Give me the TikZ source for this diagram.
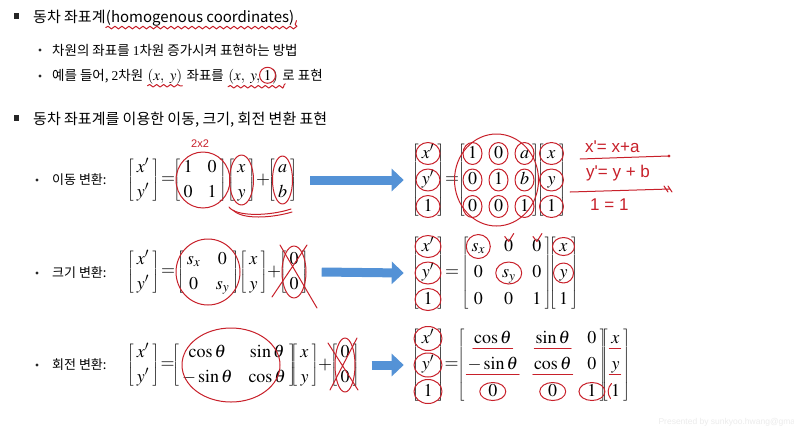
\documentclass[tikz,border=0pt]{standalone}
\usepackage{amsmath}
\usepackage{mathptmx}
\usepackage{fontspec}
\setmainfont{Liberation Serif}
\newfontfamily\kr{Noto Sans CJK KR}
\newfontfamily\hand{Liberation Sans}
\usetikzlibrary{matrix,arrows.meta,positioning,decorations.pathmorphing}
\definecolor{penred}{RGB}{200,32,42}
\definecolor{arrowblue}{RGB}{84,146,214}
\definecolor{wmgray}{RGB}{236,236,236}
\newcommand\hfont{\kr\fontsize{15}{18}\selectfont}
\newcommand\subfont{\kr\fontsize{13.5}{16}\selectfont}
\newcommand\lblfont{\kr\fontsize{13}{15}\selectfont}
\newcommand\matfont{\fontsize{18}{22}\selectfont}
\newcommand\penfont{\hand\fontsize{17}{20}\selectfont}
\tikzset{
  every delimiter/.style={inner sep=0pt},
  mat/.style={matrix of math nodes,left delimiter={[},right delimiter={]},
    inner sep=1pt,row sep=6pt,column sep=15pt,
    nodes={inner sep=1pt,text height=13pt,text depth=4pt,font=\matfont}},
  mat3/.style={mat,row sep=7.5pt},
  op/.style={font=\matfont,inner sep=0pt},
  txt/.style={font=\subfont,inner sep=0pt},
  mtxt/.style={font=\fontsize{15}{18}\selectfont,inner sep=0pt},
  sq/.style={fill=black!85,inner sep=0pt,minimum size=5.5pt},
  dot/.style={circle,fill=black!85,inner sep=0pt,minimum size=3.2pt},
  pen/.style={draw=penred,line width=1pt,line cap=round,line join=round},
  wave/.style={pen,decorate,decoration={snake,amplitude=1.3pt,segment length=7pt}},
  bigarrow/.style={draw=arrowblue,line width=9pt,-{Triangle[length=12pt,width=22pt]}},
  penlabel/.style={text=penred,font=\penfont,inner sep=0pt},
}
\begin{document}
\begin{tikzpicture}[x=1pt,y=-1pt]
  \path[use as bounding box,fill=white] (0,0) rectangle (794,432);
  % headings
  \node[sq] at (16.5,16) {};
  \node[txt,anchor=west,font=\hfont] (h1) at (33,17) {동차 좌표계};
  \node[txt,font=\hfont,base right=0pt of h1] (h1en) {(homogenous coordinates)};
  \node[dot] at (40,50) {};
  \node[txt,anchor=west] (s1) at (52,50) {차원의 좌표를 {\rmfamily 1}차원 증가시켜 표현하는 방법};
  \node[dot] at (40,76) {};
  \node[txt,anchor=west] (s2) at (52,76) {예를 들어, {\rmfamily 2}차원};
  \node[mtxt,base right=4pt of s2] (pxy) {$(x,\ y)$};
  \node[txt,base right=4pt of pxy] (s3) {좌표를};
  \node[mtxt,base right=4pt of s3] (pxyo) {$(x,\ y,$};
  \node[mtxt,base right=3pt of pxyo] (one) {$1$};
  \node[mtxt,base right=0.5pt of one] (pcl) {$)$};
  \node[txt,base right=4pt of pcl] (s4) {로 표현};
  \node[sq] at (16.5,118) {};
  \node[txt,anchor=west,font=\hfont] (h2) at (33,120) {동차 좌표계를 이용한 이동, 크기, 회전 변환 표현};

  % translation
  \node[dot] at (37,180) {};
  \node[txt,anchor=west,font=\lblfont] (l1) at (52,180) {이동 변환:};
  \matrix (xp1) [mat] at (143,180) {x' \\ y' \\};
  \node[op] at (168,180) {$=$};
  \matrix (T) [mat,column sep=13pt] at (200,180) {1 & 0 \\ 0 & 1 \\};
  \matrix (xy1) [mat] at (241.5,180) {x \\ y \\};
  \node[op] at (263,180) {$+$};
  \matrix (ab) [mat] at (282.5,180) {a \\ b \\};
  \matrix (hxp1) [mat3] at (428,180) {x' \\ y' \\ 1 \\};
  \node[op] at (452,180) {$=$};
  \matrix (HT) [mat3] at (498.5,180) {1 & 0 & a \\ 0 & 1 & b \\ 0 & 0 & 1 \\};
  \matrix (hxy1) [mat3] at (551.5,180) {x \\ y \\ 1 \\};
  \draw[bigarrow] ([xshift=21pt]ab.east) -- ([xshift=-16pt]hxp1.west);

  % scaling
  \node[dot] at (37,273) {};
  \node[txt,anchor=west,font=\lblfont] (l2) at (52,273) {크기 변환:};
  \matrix (xp2) [mat] at (143,272) {x' \\ y' \\};
  \node[op] at (168,272) {$=$};
  \matrix (S) [mat,column sep=13.5pt] at (208,272) {s_x & 0 \\ 0 & s_y \\};
  \matrix (xy2) [mat] at (253.5,272) {x \\ y \\};
  \node[op] at (274,272) {$+$};
  \matrix (z2) [mat] at (294,272) {0 \\ 0 \\};
  \matrix (hxp2) [mat3] at (428,273) {x' \\ y' \\ 1 \\};
  \node[op] at (452,273) {$=$};
  \matrix (HS) [mat3] at (506.5,273) {s_x & 0 & 0 \\ 0 & s_y & 0 \\ 0 & 0 & 1 \\};
  \matrix (hxy2) [mat3] at (563.5,273) {x \\ y \\ 1 \\};
  \draw[bigarrow] ([xshift=21pt]z2.east) -- ([xshift=-16pt]hxp2.west);

  % rotation
  \node[dot] at (37,365) {};
  \node[txt,anchor=west,font=\lblfont] (l3) at (52,365) {회전 변환:};
  \matrix (xp3) [mat] at (143,365) {x' \\ y' \\};
  \node[op] at (167.5,365) {$=$};
  \matrix (R) [mat,column sep=14pt] at (234,365) {\cos\theta & \sin\theta \\ -\sin\theta & \cos\theta \\};
  \matrix (xy3) [mat] at (304.5,365) {x \\ y \\};
  \node[op] at (325,365) {$+$};
  \matrix (z3) [mat] at (345,365) {0 \\ 0 \\};
  \matrix (hxp3) [mat3] at (428,365) {x' \\ y' \\ 1 \\};
  \node[op] at (451.5,365) {$=$};
  \matrix (HR) [mat3,column sep=14pt] at (532,365) {\cos\theta & \sin\theta & 0 \\ -\sin\theta & \cos\theta & 0 \\ 0 & 0 & 1 \\};
  \matrix (hxy3) [mat3] at (615.5,365) {x \\ y \\ 1 \\};
  \draw[bigarrow] ([xshift=20pt]z3.east) -- ([xshift=-16pt]hxp3.west);

  % pen marks, top
  \draw[wave] ([yshift=-1pt]h1en.south west) -- ([yshift=-1pt]h1en.south east) -- ++(2,-7);
  \draw[wave] ([yshift=-1.5pt]pxy.south west) -- ([yshift=-1.5pt]pxy.south east);
  \draw[wave] ([yshift=-2.5pt]pxyo.south west) -- ([yshift=-2.5pt,xshift=4pt]pcl.south east) -- ++(3,-3);
  \draw[pen] (one) ellipse [x radius=8,y radius=8];

  % pen marks, translation
  \node[penlabel,font=\hand\fontsize{11}{12}\selectfont] (dim) at (200,144) {2x2};
  \draw[pen] ([xshift=3pt]T.center) ellipse [x radius=27,y radius=28];
  \draw[pen] (xy1) ellipse [x radius=12,y radius=25];
  \draw[pen] (ab) ellipse [x radius=10,y radius=24];
  \draw[pen] (229,207) .. controls (236,217) and (270,216) .. (291,209);
  \draw[pen] (233,210) .. controls (242,220) and (272,218) .. (292,212);
  \foreach \m in {hxp1,hxy1} {\foreach \i in {1,2,3} {\draw[pen] (\m-\i-1) ellipse [x radius=12,y radius=11];}}
  \foreach \i in {1,2,3} {\foreach \j in {1,2,3} {\draw[pen] (HT-\i-\j) ellipse [x radius=9.5,y radius=11];}}
  \draw[pen] ([xshift=-2pt]HT.center) ellipse [x radius=42,y radius=46];
  \node[penlabel,anchor=west] (ex) at (585,147) {x'= x+a};
  \draw[pen] (580,159) -- (668,156);
  \draw[pen] (669,156) circle [radius=1];
  \node[penlabel,anchor=west] (ey) at (586,173) {y'= y + b};
  \draw[pen] (570,192) -- (670,189) (664,186) -- (668,192) (668,186) -- (672,192);
  \node[penlabel,anchor=west] (eo) at (590,205) {1 = 1};

  % pen marks, scaling
  \draw[pen] (S) ellipse [x radius=32,y radius=33];
  \draw[pen] (z2) ellipse [x radius=12,y radius=26];
  \draw[pen] (272,297) -- (307,245) (280,245) -- (317,308);
  \foreach \i in {1,2,3} {\draw[pen] (hxp2-\i-1) ellipse [x radius=13,y radius=11];}
  \draw[pen] (HS-1-1) ellipse [x radius=12,y radius=12];
  \draw[pen] (HS-2-2) ellipse [x radius=13,y radius=11];
  \draw[pen] (hxy2-1-1) ellipse [x radius=11,y radius=9];
  \draw[pen] (hxy2-2-1) ellipse [x radius=10,y radius=10];
  \draw[pen] ([shift={(-4,-10)}]HS-1-2.center) -- ++(4,5) -- ++(5,-8);
  \draw[pen] ([shift={(-4,-10)}]HS-1-3.center) -- ++(4,5) -- ++(5,-8);

  % pen marks, rotation
  \draw[pen] ([xshift=-3pt]R.center) ellipse [x radius=49,y radius=37];
  \draw[pen] (z3) ellipse [x radius=10,y radius=27];
  \draw[pen] (328,343) -- (358,390) (330,390) -- (357,338);
  \foreach \i in {1,2,3} {\draw[pen] (hxp3-\i-1) ellipse [x radius=14,y radius=12];}
  \foreach \c in {1-1,1-2,2-1,2-2} {\draw[pen] (HR-\c.south west) -- (HR-\c.south east);}
  \foreach \j in {1,2,3} {\draw[pen] (HR-3-\j) ellipse [x radius=13,y radius=9];}
  \draw[pen] ([xshift=-1pt]hxy3-1-1.south west) -- (hxy3-1-1.south east);
  \draw[pen] ([xshift=-1pt]hxy3-2-1.south west) -- (hxy3-2-1.south east);
  \draw[pen] ([shift={(-4,-8)}]hxy3-3-1.center) to[bend right=40] ([shift={(-5,7)}]hxy3-3-1.center);

  \node[anchor=west,text=wmgray,font=\hand\fontsize{8.5}{10}\selectfont] (wm) at (655,422) {Presented by sunkyoo.hwang@gmail.com};
\end{tikzpicture}
\end{document}
